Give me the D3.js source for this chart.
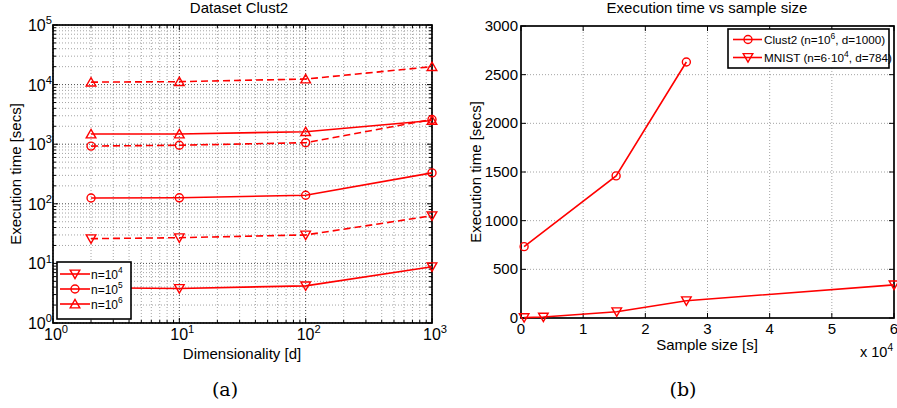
<!DOCTYPE html>
<html>
<meta charset="utf-8">
<style>
body { margin: 0; background: #fff; }
svg { font-family: "Liberation Sans", Arial, sans-serif; }
.grid line { stroke: #9a9a9a; stroke-width: 0.9; stroke-dasharray: 1,2; }
.grid line.major { stroke: #333; }
.frame { fill: none; stroke: #000; stroke-width: 1.7; }
.tick-in { stroke: #000; stroke-width: 1; }
.series { fill: none; stroke: #ff0000; stroke-width: 1.6; }
.mark { fill: none; stroke: #ff0000; stroke-width: 1.4; }
</style>
<body>
<script src="https://d3js.org/d3.v7.min.js"></script>
<script>
// left panel: execution time vs dimensionality (log-log)
var dims = [2, 10, 100, 1000];
var n4Solid = [3.9, 3.8, 4.2, 8.8];
var n4Dashed = [26, 27, 30, 63];
var n5Solid = [125, 126, 139, 330];
var n5Dashed = [930, 960, 1060, 2600];
var n6Solid = [1480, 1480, 1620, 2500];
var n6Dashed = [11000, 11200, 12400, 20000];
var leftLegend = ["4", "5", "6"];   // n=10^k

// right panel: execution time vs sample size
var clustSizes = [500, 15300, 26600];
var clustTimes = [733, 1460, 2630];
var mnistSizes = [500, 3600, 15400, 26600, 60000];
var mnistTimes = [4, 10, 65, 178, 340];
var rightXTicks = [0, 1, 2, 3, 4, 5, 6];         // x 10^4
var rightYTicks = [0, 500, 1000, 1500, 2000, 2500, 3000];

var W = 897, H = 408;
var svg = d3.select("body").append("svg").attr("width", W).attr("height", H);

var red = "#ff0000";

function marker(g, type, x, y) {
  if (type == "circle") {
    g.append("circle").attr("class", "mark").attr("cx", x).attr("cy", y).attr("r", 4);
  } else {
    var s = 4.8, dir = type == "down" ? 1 : -1;
    var pts = [[x - s, y - dir * s * 0.8], [x + s, y - dir * s * 0.8], [x, y + dir * s * 0.95]];
    g.append("path").attr("class", "mark").attr("d", "M" + pts.join("L") + "Z");
  }
}

function supLabel(g, x, y, base, sup, anchor, size) {
  var t = g.append("text").attr("x", x).attr("y", y)
    .attr("text-anchor", anchor).style("font-size", size + "px");
  t.append("tspan").text(base);
  t.append("tspan").attr("dy", -size * 0.42).style("font-size", (size * 0.7) + "px").text(sup);
  return t;
}

function isDecade(d) { return Math.abs(Math.log10(d) - Math.round(Math.log10(d))) < 1e-9; }

// ---------- left panel ----------
var xL = d3.scaleLog().domain([1, 1000]).range([53, 432]);
var yL = d3.scaleLog().domain([1, 100000]).range([323, 25]);
var gL = svg.append("g");

// grid (major + minor on both axes)
var xMinor = [], yMinor = [];
for (var e = 0; e < 3; e++) for (var k = 1; k < 10; k++) xMinor.push(k * Math.pow(10, e));
xMinor.push(1000);
for (var e = 0; e < 5; e++) for (var k = 1; k < 10; k++) yMinor.push(k * Math.pow(10, e));
yMinor.push(100000);

var gridL = gL.append("g").attr("class", "grid");
gridL.selectAll(".gx").data(xMinor).enter().append("line")
  .attr("class", function(d) { return isDecade(d) ? "major" : null; })
  .attr("x1", function(d) { return xL(d); }).attr("x2", function(d) { return xL(d); })
  .attr("y1", yL.range()[0]).attr("y2", yL.range()[1]);
gridL.selectAll(".gy").data(yMinor).enter().append("line")
  .attr("class", function(d) { return isDecade(d) ? "major" : null; })
  .attr("y1", function(d) { return yL(d); }).attr("y2", function(d) { return yL(d); })
  .attr("x1", xL.range()[0]).attr("x2", xL.range()[1]);

// inner ticks
xMinor.forEach(function(d) {
  var len = isDecade(d) ? 5 : 3;
  gL.append("line").attr("class", "tick-in").attr("x1", xL(d)).attr("x2", xL(d)).attr("y1", 323).attr("y2", 323 - len);
  gL.append("line").attr("class", "tick-in").attr("x1", xL(d)).attr("x2", xL(d)).attr("y1", 25).attr("y2", 25 + len);
});
yMinor.forEach(function(d) {
  var len = isDecade(d) ? 5 : 3;
  gL.append("line").attr("class", "tick-in").attr("y1", yL(d)).attr("y2", yL(d)).attr("x1", 53).attr("x2", 53 + len);
  gL.append("line").attr("class", "tick-in").attr("y1", yL(d)).attr("y2", yL(d)).attr("x1", 432).attr("x2", 432 - len);
});

gL.append("rect").attr("class", "frame").attr("x", 53).attr("y", 25).attr("width", 432 - 53).attr("height", 323 - 25);

// tick labels
[0, 1, 2, 3].forEach(function(p) {
  supLabel(gL, xL(Math.pow(10, p)) + 3, 340, "10", p, "middle", 16);
});
[0, 1, 2, 3, 4, 5].forEach(function(p) {
  supLabel(gL, 52, yL(Math.pow(10, p)) + 6, "10", p, "end", 16);
});

var lineL = d3.line().x(function(d) { return xL(d[0]); }).y(function(d) { return yL(d[1]); });
var leftSeries = [
  { v: n4Solid, m: "down", dash: null },
  { v: n4Dashed, m: "down", dash: "7,4" },
  { v: n5Solid, m: "circle", dash: null },
  { v: n5Dashed, m: "circle", dash: "7,4" },
  { v: n6Solid, m: "up", dash: null },
  { v: n6Dashed, m: "up", dash: "7,4" }
];
leftSeries.forEach(function(s) {
  var pts = dims.map(function(d, i) { return [d, s.v[i]]; });
  gL.append("path").attr("class", "series").attr("d", lineL(pts))
    .style("stroke-dasharray", s.dash);
  pts.forEach(function(p) { marker(gL, s.m, xL(p[0]), yL(p[1])); });
});

// legend
gL.append("rect").attr("x", 57).attr("y", 262).attr("width", 74).attr("height", 57)
  .style("fill", "#fff").style("stroke", "#000").style("stroke-width", 1.6);
var legM = ["down", "circle", "up"];
leftLegend.forEach(function(p, i) {
  var y = 274 + i * 15;
  gL.append("line").attr("x1", 60).attr("x2", 90).attr("y1", y).attr("y2", y)
    .style("stroke", red).style("stroke-width", 1.6);
  marker(gL, legM[i], 75, y);
  supLabel(gL, 91, y + 4.5, "n=10", p, "start", 12);
});

gL.append("text").attr("x", 239).attr("y", 13).attr("text-anchor", "middle")
  .style("font-size", "15px").text("Dataset Clust2");
gL.append("text").attr("x", 242).attr("y", 359).attr("text-anchor", "middle")
  .style("font-size", "15px").text("Dimensionality [d]");
gL.append("text").attr("transform", "translate(21,174) rotate(-90)").attr("text-anchor", "middle")
  .style("font-size", "15px").text("Execution time [secs]");
gL.append("text").attr("x", 225).attr("y", 396).attr("text-anchor", "middle")
  .style("font-family", "'DejaVu Serif', 'Liberation Serif', serif").style("font-size", "19px").text("(a)");

// ---------- right panel ----------
var xR = d3.scaleLinear().domain([0, 60000]).range([521, 894]);
var yR = d3.scaleLinear().domain([0, 3000]).range([318, 26]);
var gR = svg.append("g");

var gridR = gR.append("g").attr("class", "grid");
gridR.selectAll(".gx").data(rightXTicks.slice(1, -1)).enter().append("line")
  .attr("x1", function(d) { return xR(d * 1e4); }).attr("x2", function(d) { return xR(d * 1e4); })
  .attr("y1", 318).attr("y2", 26);
gridR.selectAll(".gy").data(rightYTicks.slice(1, -1)).enter().append("line")
  .attr("y1", function(d) { return yR(d); }).attr("y2", function(d) { return yR(d); })
  .attr("x1", 521).attr("x2", 894);

rightXTicks.forEach(function(d) {
  gR.append("line").attr("class", "tick-in").attr("x1", xR(d * 1e4)).attr("x2", xR(d * 1e4)).attr("y1", 318).attr("y2", 313);
  gR.append("line").attr("class", "tick-in").attr("x1", xR(d * 1e4)).attr("x2", xR(d * 1e4)).attr("y1", 26).attr("y2", 31);
  gR.append("text").attr("x", xR(d * 1e4)).attr("y", 334).attr("text-anchor", "middle")
    .style("font-size", "15px").text(d);
});
rightYTicks.forEach(function(d) {
  gR.append("line").attr("class", "tick-in").attr("y1", yR(d)).attr("y2", yR(d)).attr("x1", 521).attr("x2", 526);
  gR.append("line").attr("class", "tick-in").attr("y1", yR(d)).attr("y2", yR(d)).attr("x1", 894).attr("x2", 889);
  gR.append("text").attr("x", 518).attr("y", yR(d) + 5).attr("text-anchor", "end")
    .style("font-size", "15px").text(d);
});
gR.append("rect").attr("class", "frame").attr("x", 521).attr("y", 26).attr("width", 894 - 521).attr("height", 318 - 26);

var lineR = d3.line().x(function(d) { return xR(d[0]); }).y(function(d) { return yR(d[1]); });
var clustPts = clustSizes.map(function(d, i) { return [d, clustTimes[i]]; });
var mnistPts = mnistSizes.map(function(d, i) { return [d, mnistTimes[i]]; });
gR.append("path").attr("class", "series").attr("d", lineR(clustPts));
clustPts.forEach(function(p) { marker(gR, "circle", xR(p[0]), yR(p[1])); });
gR.append("path").attr("class", "series").attr("d", lineR(mnistPts));
mnistPts.forEach(function(p) { marker(gR, "down", xR(p[0]), yR(p[1])); });

// legend
gR.append("rect").attr("x", 728).attr("y", 29).attr("width", 161).attr("height", 39)
  .style("fill", "#fff").style("stroke", "#000").style("stroke-width", 1.6);
[["circle", "Clust2 (n=10", "6", ", d=1000)"], ["down", "MNIST (n=6\u00b710", "4", ", d=784)"]].forEach(function(l, i) {
  var y = 39.5 + i * 18;
  gR.append("line").attr("x1", 733).attr("x2", 762).attr("y1", y).attr("y2", y)
    .style("stroke", red).style("stroke-width", 1.6);
  marker(gR, l[0], 748, y);
  var t = gR.append("text").attr("x", 764).attr("y", y + 4).style("font-size", "11.7px");
  t.append("tspan").text(l[1]);
  t.append("tspan").attr("dy", -5).style("font-size", "8.5px").text(l[2]);
  t.append("tspan").attr("dy", 5).text(l[3]);
});

gR.append("text").attr("x", 707).attr("y", 13).attr("text-anchor", "middle")
  .style("font-size", "15px").text("Execution time vs sample size");
gR.append("text").attr("x", 707).attr("y", 350).attr("text-anchor", "middle")
  .style("font-size", "15px").text("Sample size [s]");
supLabel(gR, 860, 357, "x 10", "4", "start", 14.5);
gR.append("text").attr("transform", "translate(481,172) rotate(-90)").attr("text-anchor", "middle")
  .style("font-size", "15px").text("Execution time [secs]");
gR.append("text").attr("x", 683).attr("y", 396).attr("text-anchor", "middle")
  .style("font-family", "'DejaVu Serif', 'Liberation Serif', serif").style("font-size", "19px").text("(b)");
</script>
</body>
</html>
